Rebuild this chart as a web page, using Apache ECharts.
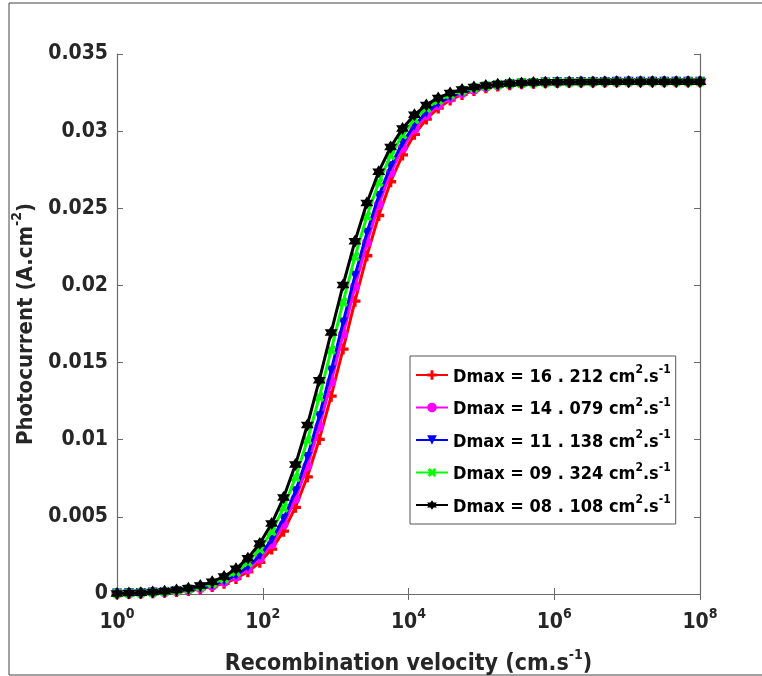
<!DOCTYPE html>
<html>
<head>
<meta charset="utf-8">
<script src="https://cdn.jsdelivr.net/npm/echarts@6/dist/echarts.min.js"></script>
<style>html,body{margin:0;padding:0;background:#fff}#c{width:762px;height:676px}</style>
</head>
<body>
<div id="c"></div>
<script>
// Recombination velocity sample points (cm.s^-1)
const xVals = [1, 1.457, 2.121, 3.089, 4.498, 6.551, 9.541, 13.89, 20.24, 29.47, 42.92, 62.51, 91.03, 132.6, 193.1, 281.2, 409.5, 596.4, 868.5, 1265, 1842, 2683, 3907, 5690, 8286, 12068, 17575, 25595, 37276, 54287, 79060, 115140, 167683, 244205, 355648, 517947, 754312, 1098541, 1599859, 2329952, 3393222, 4941713, 7196857, 10481131, 15264180, 22229965, 32374575, 47148664, 68664885, 100000000];

const seriesNames = ['Dmax = 16 . 212', 'Dmax = 14 . 079', 'Dmax = 11 . 138', 'Dmax = 09 . 324', 'Dmax = 08 . 108'];

const yRed = [0.000024, 0.000035, 0.000051, 0.000074, 0.000108, 0.000157, 0.000228, 0.000331, 0.00048, 0.000694, 0.001001, 0.001439, 0.002055, 0.002911, 0.004075, 0.00562, 0.007597, 0.010018, 0.012824, 0.015878, 0.01898, 0.021924, 0.024534, 0.02672, 0.02846, 0.029793, 0.030783, 0.031501, 0.032015, 0.032377, 0.03263, 0.032807, 0.032929, 0.033013, 0.033072, 0.033112, 0.033139, 0.033158, 0.033171, 0.03318, 0.033186, 0.033191, 0.033194, 0.033196, 0.033197, 0.033198, 0.033199, 0.0332, 0.0332, 0.0332];
const yMagenta = [0.000027, 0.000039, 0.000057, 0.000083, 0.000121, 0.000176, 0.000256, 0.000371, 0.000537, 0.000777, 0.001119, 0.001606, 0.002288, 0.003231, 0.004505, 0.006178, 0.008292, 0.010841, 0.01374, 0.016833, 0.019907, 0.022764, 0.02525, 0.027299, 0.028909, 0.030129, 0.031028, 0.031678, 0.03214, 0.032464, 0.032691, 0.032849, 0.032958, 0.033034, 0.033086, 0.033121, 0.033146, 0.033163, 0.033174, 0.033182, 0.033188, 0.033192, 0.033194, 0.033196, 0.033197, 0.033198, 0.033199, 0.0332, 0.0332, 0.0332];
const yBlue = [0.00003, 0.000043, 0.000063, 0.000091, 0.000133, 0.000193, 0.00028, 0.000406, 0.000588, 0.00085, 0.001223, 0.001752, 0.002491, 0.003509, 0.004875, 0.006653, 0.008877, 0.011523, 0.014486, 0.017594, 0.020632, 0.02341, 0.025793, 0.027732, 0.029241, 0.030376, 0.031208, 0.031806, 0.03223, 0.032528, 0.032736, 0.03288, 0.032979, 0.033048, 0.033096, 0.033128, 0.033151, 0.033166, 0.033177, 0.033184, 0.033189, 0.033192, 0.033195, 0.033196, 0.033198, 0.033198, 0.033199, 0.0332, 0.0332, 0.0332];
const yGreen = [0.000035, 0.000051, 0.000074, 0.000107, 0.000156, 0.000226, 0.000328, 0.000476, 0.000689, 0.000994, 0.001428, 0.00204, 0.002889, 0.004048, 0.005584, 0.007552, 0.009964, 0.012763, 0.015812, 0.018918, 0.021864, 0.024485, 0.026679, 0.028428, 0.029769, 0.030765, 0.031489, 0.032006, 0.032371, 0.03263, 0.032804, 0.032927, 0.033012, 0.033071, 0.033111, 0.033139, 0.033158, 0.033171, 0.03318, 0.033186, 0.033191, 0.033194, 0.033196, 0.033197, 0.033198, 0.033199, 0.0332, 0.0332, 0.0332, 0.0332];
const yBlack = [0.00004, 0.000058, 0.000084, 0.000123, 0.000179, 0.000259, 0.000376, 0.000545, 0.000789, 0.001136, 0.001629, 0.00232, 0.003274, 0.004564, 0.006254, 0.008387, 0.010951, 0.013862, 0.016956, 0.020028, 0.02287, 0.025342, 0.027371, 0.028965, 0.03017, 0.031059, 0.0317, 0.032155, 0.032475, 0.032699, 0.032854, 0.032962, 0.033036, 0.033087, 0.033123, 0.033147, 0.033163, 0.033175, 0.033183, 0.033188, 0.033192, 0.033194, 0.033196, 0.033197, 0.033198, 0.033199, 0.0332, 0.0332, 0.0332, 0.0332];

const xTickVals = [1, 100, 10000, 1000000, 100000000];
const yTicks = [0, 0.005, 0.01, 0.015, 0.02, 0.025, 0.03, 0.035];

const FONT = "'DejaVu Sans Condensed', 'Liberation Sans', Arial, sans-serif";
const TXT = '#262626';
const AX = '#6b6b6b';

const plusPath = 'path://M3.5,0H6.5V3.5H10V6.5H6.5V10H3.5V6.5H0V3.5H3.5Z';
const hexPath = 'path://M10,0L12.89,5L18.66,5L15.77,10L18.66,15L12.89,15L10,20L7.11,15L1.34,15L4.23,10L1.34,5L7.11,5Z';

const ySets = [yRed, yMagenta, yBlue, yGreen, yBlack];
const colors = ['#ff0000', '#ff00ff', '#0000ff', '#00ff00', '#000000'];
const symbols = [plusPath, 'circle', 'triangle', plusPath, hexPath];
const rotates = [0, 0, 180, 45, 0];
const sizes = [11, 10, 10, 11, 13];

const series = ySets.map((ys, i) => ({
  name: seriesNames[i],
  type: 'line',
  data: xVals.map((x, j) => [x, ys[j]]),
  showAllSymbol: true,
  symbol: symbols[i],
  symbolRotate: rotates[i],
  symbolSize: sizes[i],
  lineStyle: { color: colors[i], width: 3 },
  itemStyle: { color: colors[i] },
  emphasis: { disabled: true },
  z: 2 + i,
  animation: false
}));

const chart = echarts.init(document.getElementById('c'), null, { renderer: 'canvas' });
chart.setOption({
  backgroundColor: '#ffffff',
  animation: false,
  textStyle: { fontFamily: FONT },
  grid: { left: 117, right: 62, top: 54, bottom: 82, containLabel: false, outerBoundsMode: 'none' },
  graphic: [{
    type: 'rect', silent: true, z: -1,
    shape: { x: 9, y: 3, width: 800, height: 672 },
    style: { fill: 'none', stroke: '#444', lineWidth: 1 }
  }],
  legend: {
    orient: 'vertical',
    left: 410, top: 356,
    padding: [8, 5, 8, 5],
    itemGap: 10.5,
    itemWidth: 32, itemHeight: 12,
    backgroundColor: '#fff',
    borderColor: '#555', borderWidth: 1,
    selectedMode: false,
    data: seriesNames,
    formatter: n => '{t|' + n + ' cm}{s|2}{t|.s}{s|-1}',
    textStyle: {
      rich: {
        t: { fontFamily: FONT, fontWeight: 'bold', fontSize: 18, color: '#000', lineHeight: 22, verticalAlign: 'bottom' },
        s: { fontFamily: FONT, fontWeight: 'bold', fontSize: 12, color: '#000', lineHeight: 12, verticalAlign: 'top' }
      }
    }
  },
  xAxis: [{
    type: 'log', logBase: 10, min: 1, max: 1e8,
    position: 'bottom',
    name: '{t|Recombination velocity (cm.s}{s|-1}{t|)}',
    nameLocation: 'middle', nameGap: 54,
    nameTextStyle: {
      rich: {
        t: { fontFamily: FONT, fontWeight: 'bold', fontSize: 23, color: TXT, lineHeight: 28, verticalAlign: 'bottom' },
        s: { fontFamily: FONT, fontWeight: 'bold', fontSize: 14, color: TXT, lineHeight: 14, verticalAlign: 'top' }
      }
    },
    axisLine: { lineStyle: { color: AX, width: 1.2 } },
    axisTick: { inside: true, length: 6, lineStyle: { color: AX }, customValues: xTickVals },
    splitLine: { show: false },
    minorTick: { show: false },
    axisLabel: {
      margin: 13,
      customValues: xTickVals,
      formatter: v => '{b|10}{s|' + Math.round(Math.log10(v)) + '}',
      rich: {
        b: { fontFamily: FONT, fontWeight: 'bold', fontSize: 21, color: TXT, lineHeight: 26, verticalAlign: 'bottom' },
        s: { fontFamily: FONT, fontWeight: 'bold', fontSize: 14, color: TXT, lineHeight: 14, verticalAlign: 'top' }
      }
    }
  }, {
    type: 'log', logBase: 10, min: 1, max: 1e8,
    position: 'top',
    axisLine: { lineStyle: { color: AX, width: 1.2 } },
    axisTick: { inside: true, length: 6, lineStyle: { color: AX }, customValues: xTickVals },
    axisLabel: { show: false },
    splitLine: { show: false }
  }],
  yAxis: [{
    type: 'value', min: 0, max: 0.035, interval: 0.005,
    position: 'left',
    name: '{t|Photocurrent (A.cm}{s|-2}{t|)}',
    nameLocation: 'middle', nameGap: 66, nameRotate: 90,
    nameTextStyle: {
      rich: {
        t: { fontFamily: FONT, fontWeight: 'bold', fontSize: 22, color: TXT, lineHeight: 27, verticalAlign: 'bottom' },
        s: { fontFamily: FONT, fontWeight: 'bold', fontSize: 14, color: TXT, lineHeight: 14, verticalAlign: 'top' }
      }
    },
    axisLine: { show: true, lineStyle: { color: AX, width: 1.2 } },
    axisTick: { show: true, inside: true, length: 6, lineStyle: { color: AX } },
    splitLine: { show: false },
    axisLabel: {
      margin: 9,
      fontFamily: FONT, fontWeight: 'bold', fontSize: 21, color: TXT,
      formatter: v => String(+v.toFixed(3))
    }
  }, {
    type: 'value', min: 0, max: 0.035, interval: 0.005,
    position: 'right',
    axisLine: { show: true, lineStyle: { color: AX, width: 1.2 } },
    axisTick: { show: true, inside: true, length: 6, lineStyle: { color: AX } },
    axisLabel: { show: false },
    splitLine: { show: false }
  }],
  series: series
});
</script>
</body>
</html>
